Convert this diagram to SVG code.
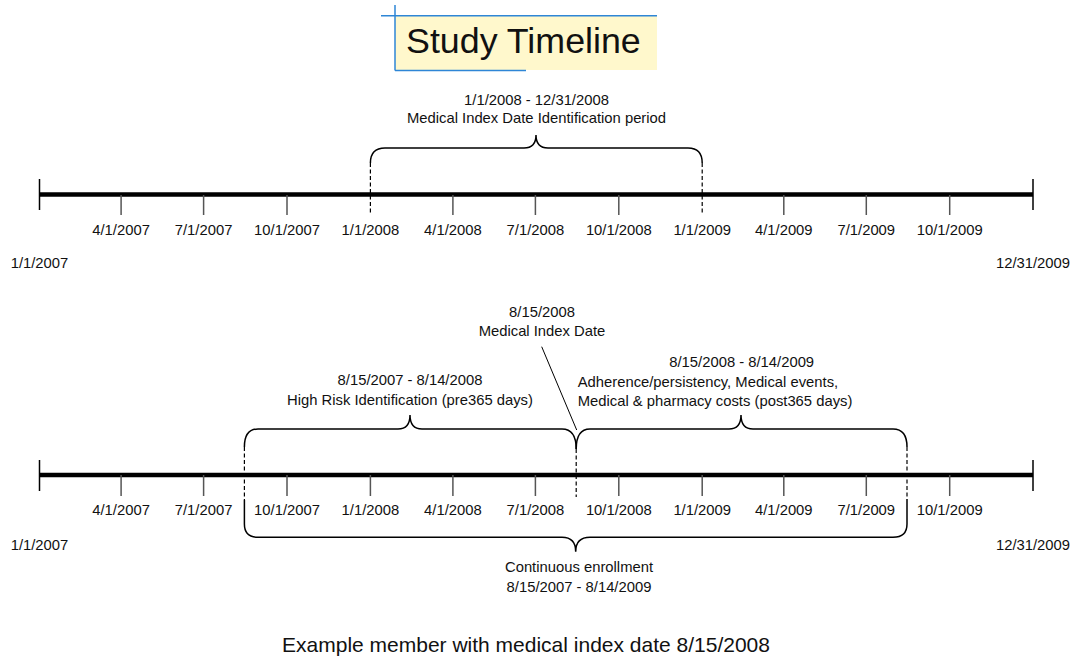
<svg xmlns="http://www.w3.org/2000/svg" width="1075" height="656" viewBox="0 0 1075 656">
<style>
text{font-family:"Liberation Sans",Arial,sans-serif;font-size:14.8px;fill:#111}
.c{text-anchor:middle}
.axis{stroke:#000;stroke-width:4.5;fill:none}
.end{stroke:#000;stroke-width:1.5}
.q{stroke:#555;stroke-width:1.5}
.brace{stroke:#000;stroke-width:1.5;fill:none}
.dash{stroke:#000;stroke-width:1.2;stroke-dasharray:4 2.5;fill:none}
.blue{stroke:#2e86d6;stroke-width:1.5}
</style>
<rect width="1075" height="656" fill="#fff"/>
<g id="title">
<rect x="395" y="16" width="262" height="54" fill="#fff8cc"/>
<line class="blue" x1="381" y1="15.7" x2="657" y2="15.7"/>
<line class="blue" x1="395" y1="5" x2="395" y2="70.5"/>
<line class="blue" x1="395" y1="70.5" x2="526" y2="70.5"/>
<text x="406" y="53" style="font-size:35.8px">Study Timeline</text>
</g>
<g id="timeline-top">
<line class="axis" x1="39.5" y1="194.5" x2="1033" y2="194.5"/>
<line class="end" x1="39.5" y1="179" x2="39.5" y2="210"/>
<line class="end" x1="1033" y1="179" x2="1033" y2="210"/>
<g class="q">
<line x1="121.1" y1="195" x2="121.1" y2="215"/>
<line x1="203.6" y1="195" x2="203.6" y2="215"/>
<line x1="287" y1="195" x2="287" y2="215"/>
<line x1="452.9" y1="195" x2="452.9" y2="215"/>
<line x1="535.4" y1="195" x2="535.4" y2="215"/>
<line x1="618.8" y1="195" x2="618.8" y2="215"/>
<line x1="783.8" y1="195" x2="783.8" y2="215"/>
<line x1="866.3" y1="195" x2="866.3" y2="215"/>
<line x1="949.7" y1="195" x2="949.7" y2="215"/>
</g>
<g class="c">
<text x="121.1" y="235">4/1/2007</text>
<text x="203.6" y="235">7/1/2007</text>
<text x="287" y="235">10/1/2007</text>
<text x="370.4" y="235">1/1/2008</text>
<text x="452.9" y="235">4/1/2008</text>
<text x="535.4" y="235">7/1/2008</text>
<text x="618.8" y="235">10/1/2008</text>
<text x="702.2" y="235">1/1/2009</text>
<text x="783.8" y="235">4/1/2009</text>
<text x="866.3" y="235">7/1/2009</text>
<text x="949.7" y="235">10/1/2009</text>
<text x="39.5" y="268">1/1/2007</text>
<text x="1033" y="268">12/31/2009</text>
</g>
</g>
<g id="timeline-bottom">
<line class="axis" x1="39.5" y1="475" x2="1033" y2="475"/>
<line class="end" x1="39.5" y1="460" x2="39.5" y2="491"/>
<line class="end" x1="1033" y1="460" x2="1033" y2="491"/>
<g class="q">
<line x1="121.1" y1="475" x2="121.1" y2="496"/>
<line x1="203.6" y1="475" x2="203.6" y2="496"/>
<line x1="287" y1="475" x2="287" y2="496"/>
<line x1="370.4" y1="475" x2="370.4" y2="496"/>
<line x1="452.9" y1="475" x2="452.9" y2="496"/>
<line x1="535.4" y1="475" x2="535.4" y2="496"/>
<line x1="618.8" y1="475" x2="618.8" y2="496"/>
<line x1="702.2" y1="475" x2="702.2" y2="496"/>
<line x1="783.8" y1="475" x2="783.8" y2="496"/>
<line x1="866.3" y1="475" x2="866.3" y2="496"/>
<line x1="949.7" y1="475" x2="949.7" y2="496"/>
</g>
<g class="c">
<text x="121.1" y="515">4/1/2007</text>
<text x="203.6" y="515">7/1/2007</text>
<text x="287" y="515">10/1/2007</text>
<text x="370.4" y="515">1/1/2008</text>
<text x="452.9" y="515">4/1/2008</text>
<text x="535.4" y="515">7/1/2008</text>
<text x="618.8" y="515">10/1/2008</text>
<text x="702.2" y="515">1/1/2009</text>
<text x="783.8" y="515">4/1/2009</text>
<text x="866.3" y="515">7/1/2009</text>
<text x="949.7" y="515">10/1/2009</text>
<text x="39.5" y="550">1/1/2007</text>
<text x="1033" y="550">12/31/2009</text>
</g>
</g>
<g id="connectors">
<path class="brace" d="M370.4,163 Q370.4,148 385,148 H524 Q536,148 536,135 Q536,148 548,148 H688 Q702.2,148 702.2,163"/>
<path class="dash" d="M370.4,163 V215 M702.2,163 V215"/>
<path class="brace" d="M244.4,447 Q244.4,429 258,429 H398 Q410,429 410,415 Q410,429 422,429 H562 Q576.2,429 576.2,449"/>
<path class="brace" d="M576.2,449 Q576.2,429 590,429 H729 Q741,429 741,415 Q741,429 753,429 H893 Q907,429 907,447"/>
<path class="dash" d="M244.4,447 V500 M576.2,449 V497 M907,447 V499"/>
<path class="brace" d="M244.4,500 V524 Q244.4,537.3 258,537.3 H562 Q575.7,537.3 575.7,551.7 Q575.7,537.3 590,537.3 H893 Q907,537.3 907,524 V499"/>
<line x1="541.7" y1="346.7" x2="576.7" y2="430" stroke="#000" stroke-width="1"/>
</g>
<g id="label-index-period" class="c">
<text x="536.5" y="105">1/1/2008 - 12/31/2008</text>
<text x="536.5" y="123.3">Medical Index Date Identification period</text>
</g>
<g id="label-index-date" class="c">
<text x="542" y="316.5">8/15/2008</text>
<text x="542" y="336">Medical Index Date</text>
</g>
<g id="label-pre" class="c">
<text x="410" y="385">8/15/2007 - 8/14/2008</text>
<text x="410" y="405">High Risk Identification (pre365 days)</text>
</g>
<g id="label-post">
<text class="c" x="741.7" y="367">8/15/2008 - 8/14/2009</text>
<text x="577.7" y="386.5">Adherence/persistency, Medical events,</text>
<text x="577.7" y="406">Medical &amp; pharmacy costs (post365 days)</text>
</g>
<g id="label-enrollment" class="c">
<text x="579" y="572">Continuous enrollment</text>
<text x="579" y="591.5">8/15/2007 - 8/14/2009</text>
</g>
<g id="caption">
<text class="c" x="526" y="652" style="font-size:21px">Example member with medical index date 8/15/2008</text>
</g>
</svg>
